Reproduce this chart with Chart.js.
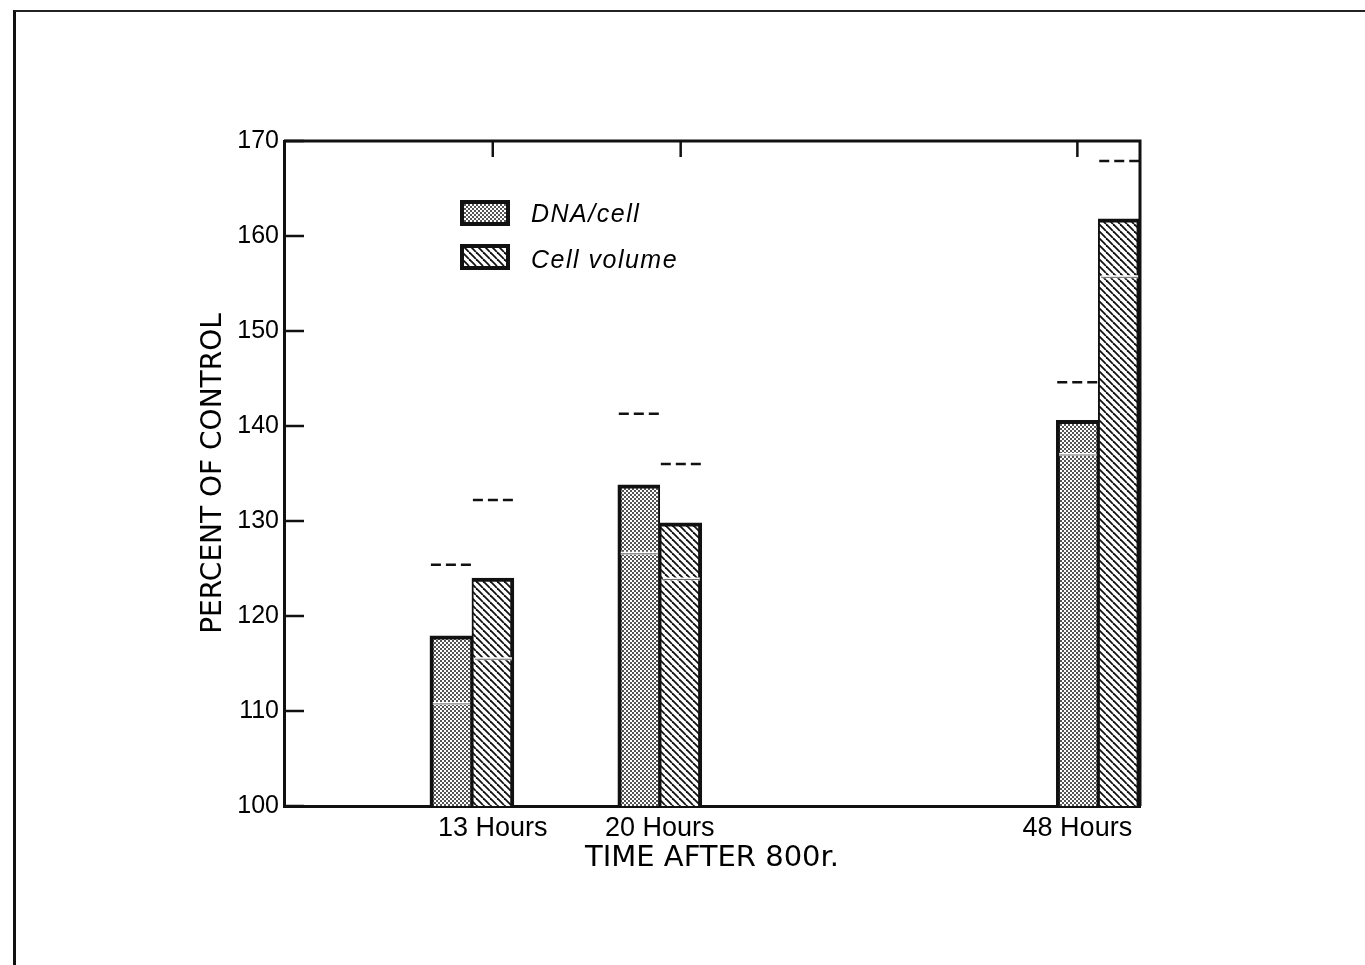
<!DOCTYPE html>
<html>
<head>
<meta charset="utf-8">
<script src="https://cdn.jsdelivr.net/npm/chart.js@4.4.0/dist/chart.umd.min.js"></script>
<style>
  html, body { margin: 0; padding: 0; background: #fff; }
  #page { position: relative; width: 1365px; height: 965px; overflow: hidden; background: #fff; }
  #sheet { position: absolute; left: 13px; top: 10px; right: -10px; bottom: -10px;
           border-left: 3px solid #111; border-top: 2px solid #222; }
  #chart { position: absolute; left: 0; top: 0; }
</style>
</head>
<body>
<div id="page">
  <div id="sheet"></div>
  <canvas id="chart" width="1365" height="965"></canvas>
</div>
<script>
// data (percent of control)
const categories = ['13 Hours', '20 Hours', '48 Hours'];
const dnaPerCell = [117.9, 133.8, 140.6];
const cellVolume = [124.0, 129.8, 161.8];
const dnaLow = [110.8, 126.6, 137.0];
const volumeLow = [115.5, 123.9, 155.7];
const dnaHigh = [125.4, 141.3, 144.6];
const volumeHigh = [132.2, 136.0, 167.9];
const yMin = 100;
const yMax = 170;
const yStep = 10;

// the time axis is not to scale, so groups sit on slots of a category axis
const slotCount = 42;
const barSlots = [9, 18, 39];
const labelSlots = [10, 18, 38];
const topTickSlots = [10, 19, 38];

const slotLabels = [];
for (let i = 0; i < slotCount; i++) {
    const k = labelSlots.indexOf(i);
    slotLabels.push(k >= 0 ? categories[k] : '');
}

function toSlots(values) {
    const arr = new Array(slotCount).fill(null);
    barSlots.forEach((s, k) => { arr[s] = values[k]; });
    return arr;
}

function makeStipple() {
    const c = document.createElement('canvas');
    c.width = 4; c.height = 4;
    const g = c.getContext('2d');
    g.fillStyle = '#fff';
    g.fillRect(0, 0, 4, 4);
    g.fillStyle = '#555';
    g.fillRect(0, 0, 2, 2);
    g.fillRect(2, 2, 2, 2);
    return g.createPattern(c, 'repeat');
}

function makeHatch() {
    const s = 7;
    const c = document.createElement('canvas');
    c.width = s; c.height = s;
    const g = c.getContext('2d');
    g.fillStyle = '#fff';
    g.fillRect(0, 0, s, s);
    g.strokeStyle = '#111';
    g.lineWidth = 1.8;
    [-s, 0, s].forEach(x => {
        g.beginPath();
        g.moveTo(x, 0);
        g.lineTo(x + s, s);
        g.stroke();
    });
    return g.createPattern(c, 'repeat');
}

const ink = '#111';

// thin lower line inside each bar, dashed upper line above it
const rangeMarks = {
    id: 'rangeMarks',
    afterDatasetsDraw(chart) {
        const ctx = chart.ctx;
        const yScale = chart.scales.y;
        [[dnaLow, dnaHigh], [volumeLow, volumeHigh]].forEach(([low, high], di) => {
            const meta = chart.getDatasetMeta(di);
            barSlots.forEach((slot, k) => {
                const bar = meta.data[slot];
                const p = bar.getProps(['x', 'width'], true);
                const left = p.x - p.width / 2;
                const right = p.x + p.width / 2;

                const yl = yScale.getPixelForValue(low[k]);
                ctx.save();
                ctx.strokeStyle = '#fff';
                ctx.lineWidth = 3;
                ctx.beginPath();
                ctx.moveTo(left + 3, yl);
                ctx.lineTo(right - 2, yl);
                ctx.stroke();
                ctx.strokeStyle = '#666';
                ctx.lineWidth = 1;
                ctx.beginPath();
                ctx.moveTo(left + 3, yl + 0.5);
                ctx.lineTo(right - 2, yl + 0.5);
                ctx.stroke();

                const yh = yScale.getPixelForValue(high[k]);
                ctx.strokeStyle = ink;
                ctx.lineWidth = 2.5;
                ctx.setLineDash([10, 5]);
                ctx.beginPath();
                ctx.moveTo(left + 1, yh);
                ctx.lineTo(right, yh);
                ctx.stroke();
                ctx.restore();
            });
        });
    }
};

// top and right frame, inward tick marks, legend
const frame = {
    id: 'frame',
    afterDraw(chart) {
        const ctx = chart.ctx;
        const a = chart.chartArea;
        const xScale = chart.scales.x;
        const yScale = chart.scales.y;
        ctx.save();
        ctx.strokeStyle = ink;
        ctx.lineWidth = 3;
        ctx.beginPath();
        ctx.moveTo(a.left, a.top);
        ctx.lineTo(a.right, a.top);
        ctx.lineTo(a.right, a.bottom);
        ctx.stroke();

        ctx.lineWidth = 2.5;
        topTickSlots.forEach(slot => {
            const x = xScale.getPixelForValue(slot);
            ctx.beginPath();
            ctx.moveTo(x, a.top);
            ctx.lineTo(x, a.top + 16);
            ctx.stroke();
        });
        yScale.ticks.forEach(t => {
            const y = yScale.getPixelForValue(t.value);
            ctx.beginPath();
            ctx.moveTo(a.left, y);
            ctx.lineTo(a.left + 20, y);
            ctx.stroke();
        });

        // legend
        const bx = a.left + 176;
        const by = a.top + 59;
        chart.data.datasets.forEach((ds, i) => {
            const y = by + i * 44;
            ctx.fillStyle = ink;
            ctx.fillRect(bx, y, 50, 26);
            ctx.fillStyle = ds.backgroundColor;
            ctx.fillRect(bx + 4, y + 4, 42, 18);
            ctx.fillStyle = '#000';
            ctx.font = 'italic 25px "Liberation Sans"';
            ctx.letterSpacing = '1.5px';
            ctx.textBaseline = 'middle';
            ctx.textAlign = 'left';
            ctx.fillText(ds.label, bx + 71, y + 15 + i * 2);
            ctx.letterSpacing = '0px';
        });
        ctx.restore();
    }
};

new Chart(document.getElementById('chart'), {
    type: 'bar',
    data: {
        labels: slotLabels,
        datasets: [
            {
                label: 'DNA/cell',
                data: toSlots(dnaPerCell),
                backgroundColor: makeStipple(),
                borderColor: ink,
                borderWidth: { top: 4, left: 4, right: 2, bottom: 0 },
                borderSkipped: 'bottom',
                barThickness: 42
            },
            {
                label: 'Cell volume',
                data: toSlots(cellVolume),
                backgroundColor: makeHatch(),
                borderColor: ink,
                borderWidth: { top: 4, left: 2, right: 4, bottom: 0 },
                borderSkipped: 'bottom',
                barThickness: 42
            }
        ]
    },
    options: {
        responsive: false,
        animation: false,
        devicePixelRatio: 1,
        layout: { padding: { left: 190, top: 141, right: 225, bottom: 79 } },
        plugins: {
            legend: { display: false },
            tooltip: { enabled: false }
        },
        scales: {
            x: {
                type: 'category',
                offset: false,
                grid: { display: false, drawTicks: false },
                border: { display: true, color: ink, width: 3 },
                ticks: {
                    autoSkip: false,
                    maxRotation: 0,
                    padding: 6,
                    color: '#000',
                    font: { family: 'Liberation Sans', size: 27 }
                },
                title: {
                    display: true,
                    text: 'TIME AFTER 800r.',
                    color: '#000',
                    font: { family: 'DejaVu Sans', size: 29 },
                    padding: { top: 0, bottom: 10 }
                },
                afterFit: s => { s.height = 80; }
            },
            y: {
                min: yMin,
                max: yMax,
                grid: { display: false, drawTicks: false },
                border: { display: true, color: ink, width: 3 },
                ticks: {
                    stepSize: yStep,
                    padding: 5,
                    color: '#000',
                    font: { family: 'Liberation Sans', size: 25 }
                },
                title: {
                    display: true,
                    text: 'PERCENT OF CONTROL',
                    color: '#000',
                    font: { family: 'DejaVu Sans', size: 28 },
                    padding: { top: 7, bottom: 0 }
                },
                afterFit: s => { s.width = 94; }
            }
        }
    },
    plugins: [rangeMarks, frame]
});
</script>
</body>
</html>
